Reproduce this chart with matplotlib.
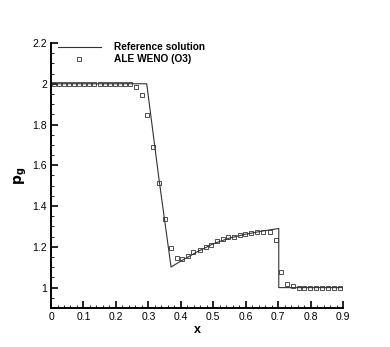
import matplotlib
matplotlib.use("Agg")
import matplotlib.pyplot as plt
from matplotlib.ticker import MultipleLocator

plt.rcParams['font.family'] = ['Liberation Sans', 'DejaVu Sans']

# --- reference (exact) solution ---
ref_x = [0.0, 0.295, 0.333, 0.370, 0.40, 0.45, 0.50, 0.55, 0.60, 0.65, 0.702, 0.702, 0.9]
ref_p = [2.0, 2.0, 1.53, 1.101, 1.13, 1.175, 1.215, 1.243, 1.262, 1.277, 1.29, 1.0, 1.0]

# --- ALE WENO (O3) cell values ---
num_x = [0.010, 0.0255, 0.041, 0.0565, 0.072, 0.0875, 0.103, 0.1185, 0.134, 0.1495,
         0.165, 0.1805, 0.196, 0.2115, 0.227, 0.2425, 0.261, 0.280, 0.297, 0.314,
         0.333, 0.351, 0.369, 0.388, 0.404, 0.423, 0.439, 0.458, 0.477, 0.494,
         0.511, 0.529, 0.547, 0.564, 0.581, 0.599, 0.616, 0.635, 0.653, 0.674,
         0.692, 0.710, 0.727, 0.745, 0.763, 0.781, 0.799, 0.818, 0.836, 0.854,
         0.872, 0.890]
num_p = [2.0, 2.0, 2.0, 2.0, 2.0, 2.0, 2.0, 2.0, 2.0, 2.0,
         2.0, 2.0, 2.0, 2.0, 2.0, 1.999, 1.986, 1.943, 1.847, 1.690,
         1.514, 1.336, 1.195, 1.146, 1.138, 1.154, 1.173, 1.185, 1.197, 1.211,
         1.229, 1.237, 1.246, 1.250, 1.257, 1.262, 1.267, 1.272, 1.275, 1.275,
         1.236, 1.077, 1.016, 1.006, 1.0, 1.0, 1.0, 1.0, 1.0, 1.0,
         1.0, 1.0]

x_ticks = [0.0, 0.1, 0.2, 0.3, 0.4, 0.5, 0.6, 0.7, 0.8, 0.9]
x_tick_labels = ['0', '0.1', '0.2', '0.3', '0.4', '0.5', '0.6', '0.7', '0.8', '0.9']
y_ticks = [1.0, 1.2, 1.4, 1.6, 1.8, 2.0, 2.2]
y_tick_labels = ['1', '1.2', '1.4', '1.6', '1.8', '2', '2.2']

fig = plt.figure(figsize=(3.9, 3.47), dpi=100)
ax = fig.add_axes([0.1308, 0.1124, 0.7487, 0.7637])

ax.plot(ref_x, ref_p, color='#333333', lw=0.8, label='Reference solution')
ax.plot(num_x, num_p, ls='none', marker='s', ms=3.2, mfc='none', mec='#333333',
        mew=0.6, label='ALE WENO (O3)')

ax.set_xlim(0, 0.9)
ax.set_ylim(0.9, 2.2)
ax.set_xticks(x_ticks)
ax.set_xticklabels(x_tick_labels)
ax.set_yticks(y_ticks)
ax.set_yticklabels(y_tick_labels)
ax.xaxis.set_minor_locator(MultipleLocator(0.02))
ax.yaxis.set_minor_locator(MultipleLocator(0.05))

for s in ['top', 'right']:
    ax.spines[s].set_visible(False)
for s in ['left', 'bottom']:
    ax.spines[s].set_linewidth(1.4)
ax.tick_params(which='major', direction='in', length=5, width=1.2, labelsize=7.5, pad=3)
ax.tick_params(which='minor', direction='in', length=2.5, width=0.6)

ax.set_xlabel('x', fontsize=9, fontweight='bold', labelpad=1)
ax.set_ylabel(r'$\mathbf{p_g}$', fontsize=10, labelpad=2)

ax.legend(loc='upper left', bbox_to_anchor=(0.0, 1.03), frameon=False,
          prop={'weight': 'bold', 'size': 7.3}, handlelength=4.2,
          handletextpad=1.3, labelspacing=0.2, borderaxespad=0.3)

fig.savefig('out.png', dpi=100)
